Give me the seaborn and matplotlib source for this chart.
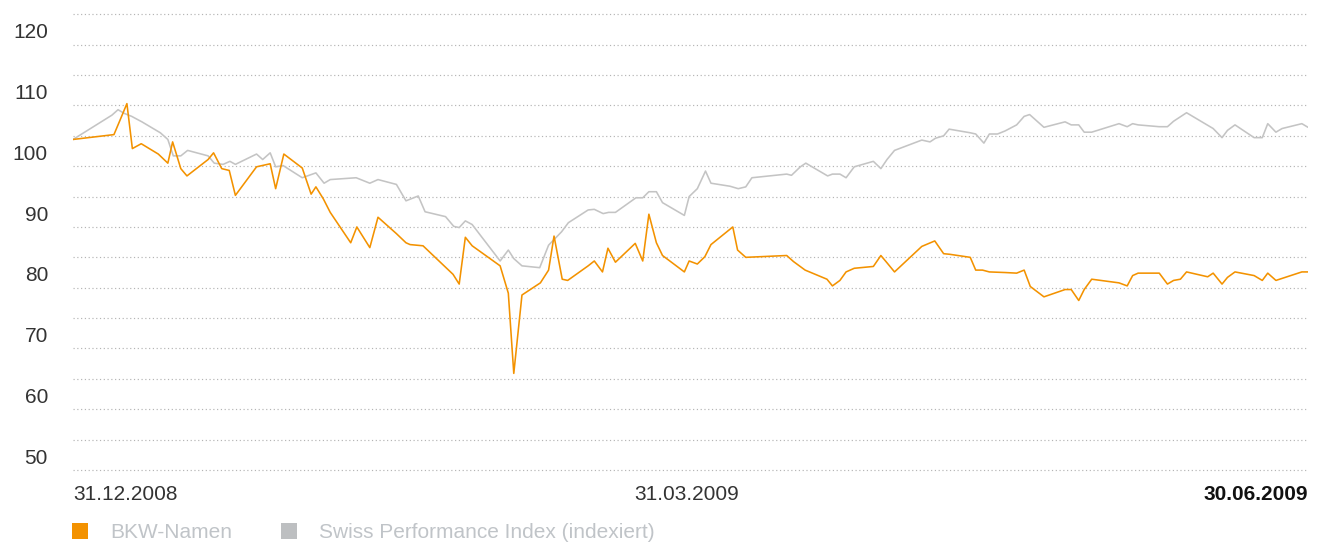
import pandas as pd
import matplotlib
matplotlib.use("Agg")
import matplotlib.pyplot as plt
import matplotlib.transforms as mtransforms
from matplotlib.lines import Line2D
import seaborn as sns

# days after 31.12.2008 and indexed values
bkw_days = [0, 6.0, 6.9, 7.9, 8.7, 10.0, 12.5, 13.9, 14.6, 15.8, 16.7, 19.8, 20.6, 21.8, 22.9,
            23.8, 26.9, 28.9, 29.7, 30.9, 33.6, 34.9, 35.6, 36.7, 37.7, 40.7, 41.6, 43.5, 44.7,
            47.4, 48.8, 49.4, 51.3, 55.7, 56.6, 57.5, 58.5, 62.6, 63.8, 64.6, 65.8, 68.5, 69.7,
            70.5, 71.7, 72.5, 75.5, 76.4, 77.6, 78.4, 79.5, 82.4, 83.5, 84.4, 85.5, 86.4, 89.6,
            90.3, 91.5, 92.6, 93.5, 96.7, 97.4, 98.6, 104.6, 105.6, 107.3, 110.5, 111.3, 112.4,
            113.3, 114.5, 117.3, 118.4, 119.3, 120.4, 124.4, 126.3, 127.6, 128.5, 131.5, 132.3,
            133.3, 134.3, 136.6, 138.3, 139.4, 140.3, 142.3, 145.4, 146.3, 147.4, 148.2, 149.3,
            153.3, 154.5, 155.3, 156.1, 159.2, 160.4, 161.3, 162.3, 163.2, 166.3, 167.1, 168.4,
            169.2, 170.3, 173.1, 174.3, 175.1, 176.3, 180.1, 181.0]
bkw_vals = [99.4, 100.2, 102.6, 105.3, 97.9, 98.7, 97.0, 95.5, 99.0, 94.6, 93.4, 96.1, 97.2, 94.6,
            94.3, 90.2, 94.9, 95.4, 91.3, 97.0, 94.7, 90.4, 91.6, 89.6, 87.4, 82.4, 85.0, 81.6, 86.6,
            83.9, 82.4, 82.1, 81.9, 77.2, 75.6, 83.3, 81.9, 78.6, 74.1, 60.9, 73.8, 75.8, 77.9,
            83.5, 76.4, 76.2, 78.6, 79.4, 77.6, 81.5, 79.2, 82.3, 79.4, 87.1, 82.4, 80.3, 77.6,
            79.4, 78.9, 80.1, 82.1, 85.0, 81.2, 80.0, 80.3, 79.3, 77.9, 76.4, 75.3, 76.2,
            77.6, 78.2, 78.5, 80.3, 79.1, 77.6, 81.8, 82.7, 80.6, 80.5, 80.0, 77.9,
            77.9, 77.6, 77.5, 77.4, 77.9, 75.2, 73.5, 74.7, 74.7, 72.9, 74.7, 76.4,
            75.8, 75.3, 77.0, 77.4, 77.4, 75.6, 76.2, 76.4, 77.6, 76.8, 77.4, 75.6,
            76.7, 77.6, 77.0, 76.2, 77.4, 76.2, 77.6, 77.6]

spi_days = [0, 5.7, 6.6, 7.5, 8.6, 10.1, 12.8, 13.9, 14.7, 15.8, 16.8, 19.8, 20.7, 22.0, 23.0,
            23.8, 26.9, 27.8, 28.9, 29.7, 30.8, 33.6, 35.6, 36.8, 37.7, 41.5, 43.5, 44.7, 47.4,
            48.8, 50.6, 51.6, 54.6, 55.8, 56.6, 57.5, 58.5, 62.6, 63.8, 64.6, 65.8, 68.4, 69.7,
            71.6, 72.6, 75.5, 76.4, 77.7, 78.5, 79.5, 82.5, 83.5, 84.4, 85.5, 86.4, 89.6, 90.3,
            91.5, 92.7, 93.5, 96.3, 97.5, 98.6, 99.5, 104.6, 105.3, 106.6, 107.4, 110.6, 111.3,
            112.4, 113.3, 114.5, 117.3, 118.4, 119.3, 120.4, 124.4, 125.6, 126.4, 127.6, 128.4,
            131.5, 132.3, 133.5, 134.3, 135.5, 136.6, 138.3, 139.4, 140.2, 142.3, 145.4, 146.3,
            147.4, 148.2, 149.3, 153.3, 154.5, 155.3, 156.1, 159.2, 160.4, 161.3, 163.2, 167.1,
            168.4, 169.2, 170.3, 173.1, 174.3, 175.1, 176.3, 177.2, 180.1, 181.0]
spi_vals = [99.4, 103.4, 104.3, 103.7, 103.2, 102.3, 100.5, 99.4, 96.7, 96.7, 97.6, 96.7, 95.5,
            95.3, 95.8, 95.3, 97.0, 96.1, 97.2, 94.9, 95.1, 93.1, 93.9, 92.2, 92.8, 93.1, 92.2,
            92.8, 92.0, 89.3, 90.1, 87.5, 86.7, 85.1, 84.9, 86.0, 85.4, 79.4, 81.2, 79.8, 78.6,
            78.3, 82.0, 84.2, 85.7, 87.8, 87.9, 87.2, 87.4, 87.4, 89.8, 89.8, 90.8, 90.8, 89.0,
            86.9, 90.0, 91.3, 94.2, 92.2, 91.7, 91.3, 91.6, 93.1, 93.7, 93.5, 94.9, 95.5, 93.4,
            93.7, 93.7, 93.1, 94.9, 95.8, 94.6, 96.1, 97.6, 99.3, 99.0, 99.6, 100.0, 101.1,
            100.5, 100.3, 98.8, 100.3, 100.3, 100.8, 101.8, 103.2, 103.5, 101.4, 102.3, 101.8,
            101.8, 100.6, 100.6, 102.0, 101.5, 102.0, 101.8, 101.5, 101.5, 102.4, 103.8, 101.2,
            99.7, 100.9, 101.8, 99.7, 99.7, 102.0, 100.6, 101.2, 102.0, 101.4]

series_names = ["BKW-Namen", "Swiss Performance Index (indexiert)"]
line_colors = ["#f39200", "#c4c4c4"]
legend_colors = ["#f39200", "#bdbfc1"]
y_labels = [50, 60, 70, 80, 90, 100, 110, 120]
x_tick_dates = ["2008-12-31", "2009-03-31", "2009-06-30"]
x_tick_labels = ["31.12.2008", "31.03.2009", "30.06.2009"]

start = pd.Timestamp("2008-12-31")
bkw = pd.DataFrame({"date": start + pd.to_timedelta(bkw_days, unit="D"), "value": bkw_vals})
spi = pd.DataFrame({"date": start + pd.to_timedelta(spi_days, unit="D"), "value": spi_vals})

sns.set_theme(style="white")
plt.rcParams["font.family"] = ["Liberation Sans", "DejaVu Sans"]

fig = plt.figure(figsize=(13.22, 5.42), dpi=100)
ax = fig.add_axes([73 / 1322, 1 - 470 / 542, 1235 / 1322, (470 - 14.3) / 542])

sns.lineplot(data=spi, x="date", y="value", color=line_colors[1], lw=1.15, ax=ax)
sns.lineplot(data=bkw, x="date", y="value", color=line_colors[0], lw=1.15, ax=ax)

ax.set_xlim(start, pd.Timestamp("2009-06-30"))
ax.set_ylim(45, 120)
ax.set_xlabel("")
ax.set_ylabel("")
for s in ax.spines.values():
    s.set_visible(False)

# dotted grid every 5, labels every 10 sitting below their line
ax.set_yticks(range(45, 121, 5), minor=True)
ax.set_yticks(y_labels)
ax.set_yticklabels([str(v) for v in y_labels])
ax.grid(False)
ax.grid(which="both", axis="y", color="#b4b4b4", lw=0.85, ls=(0, (1, 2.2)))
for gl in ax.yaxis.get_gridlines() + ax.yaxis.get_minorticklines():
    gl.set_clip_on(False)
for t in ax.yaxis.get_minor_ticks():
    t.gridline.set_clip_on(False)
ax.set_axisbelow(True)
ax.tick_params(axis="y", which="both", length=0, pad=18, labelsize=15, labelcolor="#333333")
shift = mtransforms.ScaledTranslation(0, -0.165, fig.dpi_scale_trans)
for lab in ax.get_yticklabels():
    lab.set_transform(lab.get_transform() + shift)

ax.set_xticks([pd.Timestamp(d) for d in x_tick_dates])
ax.set_xticklabels(x_tick_labels)
ax.tick_params(axis="x", length=0, pad=11, labelsize=15, labelcolor="#333333")
xl = ax.get_xticklabels()
xl[0].set_ha("left")
xl[2].set_ha("right")
xl[2].set_fontweight("bold")
xl[2].set_color("#111111")

handles = [Line2D([], [], ls="", marker="s", ms=11.5, mew=0, color=c) for c in legend_colors]
leg = fig.legend(handles, series_names, loc="lower left", bbox_to_anchor=(72 / 1322, 0),
                 ncol=2, frameon=False, fontsize=15, handlelength=0.8, handletextpad=1.05,
                 columnspacing=2.3, borderpad=0, borderaxespad=0)
for t in leg.get_texts():
    t.set_color("#c0c4c8")

fig.savefig("out.png", dpi=100)
